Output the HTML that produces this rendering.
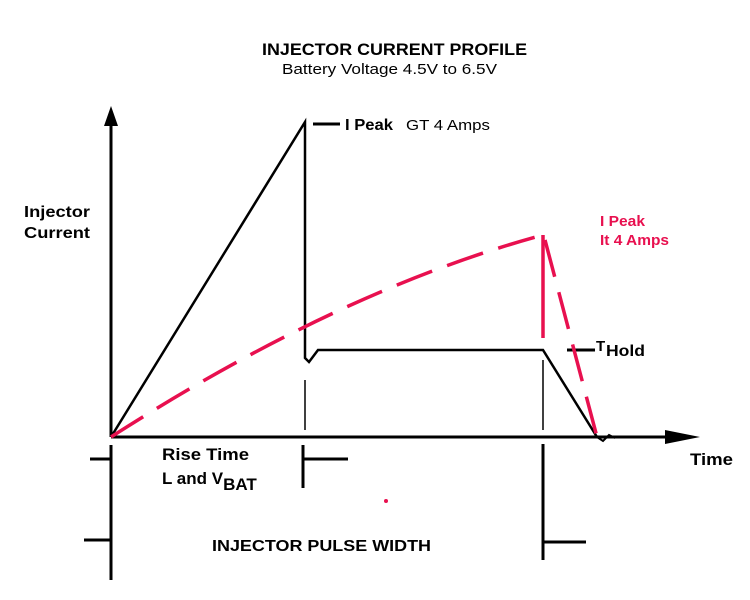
<!DOCTYPE html>
<html><head><style>body{margin:0;background:#fff}svg{display:block}</style></head><body>
<svg width="750" height="600" xmlns="http://www.w3.org/2000/svg" font-family="Liberation Sans, sans-serif">
<rect width="750" height="600" fill="#fff"/>
<g stroke="#000" fill="none">
<line x1="111" y1="118" x2="111" y2="437" stroke-width="3"/>
<line x1="111" y1="437" x2="670" y2="437" stroke-width="3"/>
<polyline points="111,437 305,122 305,358 309,362 318,350 543,350 597,437" stroke-width="2.5"/>
<path d="M597,437 l6,4 l6,-6 l6,3" stroke-width="2"/>
<line x1="313" y1="124" x2="340" y2="124" stroke-width="3"/>
<line x1="305" y1="380" x2="305" y2="430" stroke-width="1.5"/>
<line x1="543" y1="360" x2="543" y2="430" stroke-width="1.5"/>
<line x1="567" y1="350" x2="595" y2="350" stroke-width="3"/>
<line x1="111" y1="445" x2="111" y2="580" stroke-width="3"/>
<line x1="90" y1="459" x2="111" y2="459" stroke-width="3"/>
<line x1="84" y1="540" x2="111" y2="540" stroke-width="3"/>
<line x1="303" y1="445" x2="303" y2="488" stroke-width="3"/>
<line x1="303" y1="459" x2="348" y2="459" stroke-width="3"/>
<line x1="543" y1="444" x2="543" y2="560" stroke-width="3"/>
<line x1="543" y1="542" x2="586" y2="542" stroke-width="3"/>
</g>
<polygon points="111,106 104,126 118,126" fill="#000"/>
<polygon points="700,437 665,430 665,444" fill="#000"/>
<g stroke="#e8104f" fill="none" stroke-width="3.5">
<path d="M111,437 Q340,290 543,235" stroke-dasharray="38,16"/>
<line x1="543" y1="235" x2="543" y2="338"/>
<path d="M545,240 L597,437" stroke-dasharray="38,16"/>
</g>
<circle cx="386" cy="501" r="2" fill="#e8104f"/>
<g font-weight="bold" fill="#000">
<text x="262" y="55" font-size="17" textLength="265" lengthAdjust="spacingAndGlyphs">INJECTOR CURRENT PROFILE</text>
<text x="24" y="217" font-size="16" textLength="66" lengthAdjust="spacingAndGlyphs">Injector</text>
<text x="24" y="238" font-size="16" textLength="66" lengthAdjust="spacingAndGlyphs">Current</text>
<text x="345" y="130" font-size="16" textLength="48" lengthAdjust="spacingAndGlyphs">I Peak</text>
<text x="596" y="351" font-size="15">T</text>
<text x="606" y="356" font-size="16" textLength="39" lengthAdjust="spacingAndGlyphs">Hold</text>
<text x="690" y="465" font-size="17" textLength="43" lengthAdjust="spacingAndGlyphs">Time</text>
<text x="162" y="460" font-size="17" textLength="87" lengthAdjust="spacingAndGlyphs">Rise Time</text>
<text x="162" y="484" font-size="17">L and V<tspan font-size="17" dy="6">BAT</tspan></text>
<text x="212" y="551" font-size="16" textLength="219" lengthAdjust="spacingAndGlyphs">INJECTOR PULSE WIDTH</text>
</g>
<text x="282" y="74" font-size="15" textLength="215" lengthAdjust="spacingAndGlyphs">Battery Voltage 4.5V to 6.5V</text>
<text x="406" y="130" font-size="15" textLength="84" lengthAdjust="spacingAndGlyphs">GT 4 Amps</text>
<g fill="#e8104f" font-size="15" font-weight="bold">
<text x="600" y="226" textLength="45" lengthAdjust="spacingAndGlyphs">I Peak</text>
<text x="600" y="245" textLength="69" lengthAdjust="spacingAndGlyphs">It 4 Amps</text>
</g>
</svg>
</body></html>
